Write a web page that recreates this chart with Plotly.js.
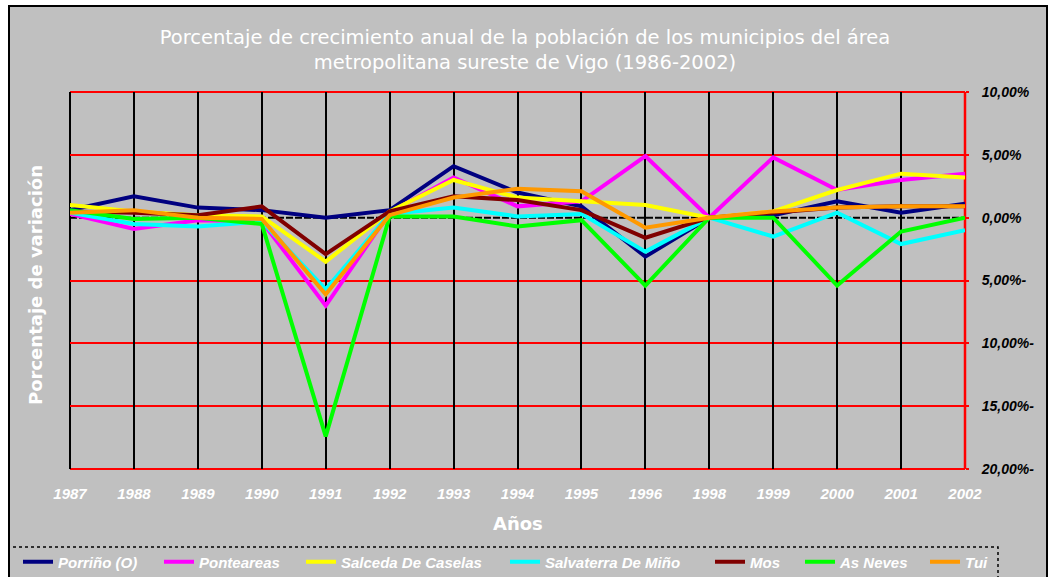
<!DOCTYPE html>
<html>
<head>
<meta charset="utf-8">
<script src="https://cdn.plot.ly/plotly-3.0.1.min.js"></script>
<style>
html,body{margin:0;padding:0;background:#ffffff;}
#chart{width:1050px;height:577px;}
</style>
</head>
<body>
<div id="chart"></div>
<script>
// ---- Data ----
const years = ['1987','1988','1989','1990','1991','1992','1993','1994','1995','1996','1998','1999','2000','2001','2002'];

const porrino    = [0.6, 1.7, 0.8, 0.6, 0.0, 0.6, 4.1, 2.0, 0.9, -3.1, 0.0, 0.2, 1.3, 0.4, 1.1];
const ponteareas = [0.3, -0.9, -0.2, -0.3, -7.0, 0.4, 3.2, 0.9, 1.3, 4.9, 0.0, 4.8, 2.2, 3.0, 3.5];
const salceda    = [1.0, 0.5, 0.2, 0.1, -3.5, 0.5, 3.0, 1.6, 1.3, 1.0, 0.0, 0.5, 2.2, 3.5, 3.2];
const salvaterra = [0.4, -0.5, -0.7, -0.3, -5.7, 0.3, 0.8, 0.1, 0.3, -2.7, 0.0, -1.5, 0.4, -2.1, -1.0];
const mos        = [0.5, 0.4, 0.2, 0.9, -2.9, 0.5, 1.7, 1.4, 0.6, -1.6, 0.0, 0.4, 0.8, 0.9, 0.9];
const asNeves    = [0.6, -0.1, 0.0, -0.5, -17.4, 0.1, 0.1, -0.7, -0.2, -5.4, 0.0, 0.0, -5.4, -1.1, 0.0];
const tui        = [0.4, 0.6, 0.0, -0.1, -6.1, 0.2, 1.6, 2.3, 2.1, -0.8, 0.0, 0.5, 0.8, 0.9, 0.9];

const seriesNames = ['Porriño (O)', 'Ponteareas', 'Salceda De Caselas', 'Salvaterra De Miño', 'Mos', 'As Neves', 'Tui'];
const seriesValues = [porrino, ponteareas, salceda, salvaterra, mos, asNeves, tui];
const seriesColors = ['#000080', '#FF00FF', '#FFFF00', '#00FFFF', '#800000', '#00FF00', '#FF9900'];

const yTickVals = [10, 5, 0, -5, -10, -15, -20];
const yTickText = ['10,00%', '5,00%', '0,00%', '5,00%-', '10,00%-', '15,00%-', '20,00%-'];
const yGridVals = [10, 5, -5, -10, -15, -20];

const titleText = 'Porcentaje de crecimiento anual de la población de los municipios del área<br>metropolitana sureste de Vigo (1986-2002)';
const xTitleText = 'Años';
const yTitleText = 'Porcentaje de variación';

// legend entry text-start positions (px from the left of the page)
const legendTextStart = [57, 198, 340, 544, 749, 839, 964];

// ---- Traces ----
const legendIds = seriesNames.map((_, i) => i === 0 ? 'legend' : 'legend' + (i + 1));
const traces = seriesNames.map((name, i) => ({
  type: 'scatter',
  mode: 'lines',
  name: name,
  legend: legendIds[i],
  x: years,
  y: seriesValues[i],
  line: {color: seriesColors[i], width: 4},
  hoverinfo: 'x+y+name'
}));

const gray = '#C0C0C0';
const W = 1050, H = 577;
const L = 70, R = 965, T = 92, B = 469;
const px = v => (v - L) / (R - L);
const py = v => (B - v) / (B - T);

const legendFont = {family: 'Liberation Sans, Arial, sans-serif', size: 15, color: '#ffffff', weight: 'bold', style: 'italic'};

const layout = {
  width: W,
  height: H,
  paper_bgcolor: '#ffffff',
  plot_bgcolor: gray,
  margin: {l: L, r: W - R, t: T, b: H - B, pad: 0},
  showlegend: true,
  title: {
    text: titleText,
    font: {family: 'DejaVu Sans, Verdana, sans-serif', size: 19.5, color: '#ffffff'},
    x: 0.5, xref: 'container', xanchor: 'center',
    y: 1 - 44/H, yref: 'container', yanchor: 'middle'
  },
  xaxis: {
    type: 'category',
    range: [0, years.length - 1],
    showgrid: true,
    gridcolor: '#000000',
    gridwidth: 2,
    zeroline: false,
    showline: false,
    ticks: '',
    ticklabelstandoff: 14,
    tickfont: {family: 'Liberation Sans, Arial, sans-serif', size: 15, color: '#ffffff', weight: 'bold', style: 'italic'},
    fixedrange: true
  },
  yaxis: {
    side: 'right',
    range: [-20, 10],
    tickvals: yTickVals,
    ticktext: yTickText,
    showgrid: false,
    zeroline: false,
    showline: false,
    ticks: 'outside',
    ticklen: 3,
    tickcolor: '#FF0000',
    tickwidth: 2,
    ticklabelstandoff: 10,
    tickfont: {family: 'Liberation Sans, Arial, sans-serif', size: 14, color: '#000000', weight: 'bold', style: 'italic'},
    minor: {
      tickvals: yGridVals,
      showgrid: true,
      gridcolor: '#FF0000',
      gridwidth: 2,
      ticks: ''
    },
    fixedrange: true
  },
  annotations: [
    {
      text: xTitleText, showarrow: false,
      xref: 'paper', yref: 'paper', x: 0.5, y: py(523),
      xanchor: 'center', yanchor: 'middle',
      font: {family: 'DejaVu Sans, Verdana, sans-serif', size: 18, color: '#ffffff', weight: 'bold'}
    },
    {
      text: yTitleText, showarrow: false, textangle: -90,
      xref: 'paper', yref: 'paper', x: px(35), y: py(285),
      xanchor: 'center', yanchor: 'middle',
      font: {family: 'DejaVu Sans, Verdana, sans-serif', size: 18, color: '#ffffff', weight: 'bold'}
    }
  ],
  shapes: [
    // outer chart area with border
    {type: 'rect', layer: 'below', xref: 'paper', yref: 'paper',
     x0: px(9), x1: px(1047), y0: py(620), y1: py(6),
     fillcolor: gray, line: {color: '#000000', width: 2}},
    // zero reference line (dashed)
    {type: 'line', layer: 'below', xref: 'paper', yref: 'y',
     x0: 0, x1: 1, y0: 0, y1: 0,
     line: {color: '#000000', width: 2, dash: '7px,2px'}},
    // plot area edges
    {type: 'line', layer: 'below', xref: 'paper', yref: 'paper',
     x0: 0, x1: 1, y0: 1, y1: 1, line: {color: '#FF0000', width: 2}},
    {type: 'line', layer: 'below', xref: 'paper', yref: 'paper',
     x0: 0, x1: 1, y0: 0, y1: 0, line: {color: '#FF0000', width: 2}},
    {type: 'line', layer: 'below', xref: 'paper', yref: 'paper',
     x0: 0, x1: 0, y0: 0, y1: 1, line: {color: '#000000', width: 2}},
    {type: 'line', layer: 'below', xref: 'paper', yref: 'paper',
     x0: 1, x1: 1, y0: 0, y1: 1, line: {color: '#FF0000', width: 2.5}},
    // legend box
    {type: 'rect', layer: 'above', xref: 'paper', yref: 'paper',
     x0: px(9), x1: px(998), y0: py(580), y1: py(547),
     fillcolor: 'rgba(0,0,0,0)', line: {color: '#000000', width: 1.5, dash: 'dot'}}
  ]
};

// one legend per entry so each entry sits where it does in the reference
legendIds.forEach((id, i) => {
  layout[id] = {
    orientation: 'h',
    xref: 'container', yref: 'container',
    x: (legendTextStart[i] - 39) / W, xanchor: 'left',
    y: 15 / H, yanchor: 'middle',
    bgcolor: 'rgba(0,0,0,0)',
    borderwidth: 0,
    font: legendFont,
    itemwidth: 30
  };
});

Plotly.newPlot('chart', traces, layout, {displayModeBar: false, staticPlot: true});
</script>
</body>
</html>
